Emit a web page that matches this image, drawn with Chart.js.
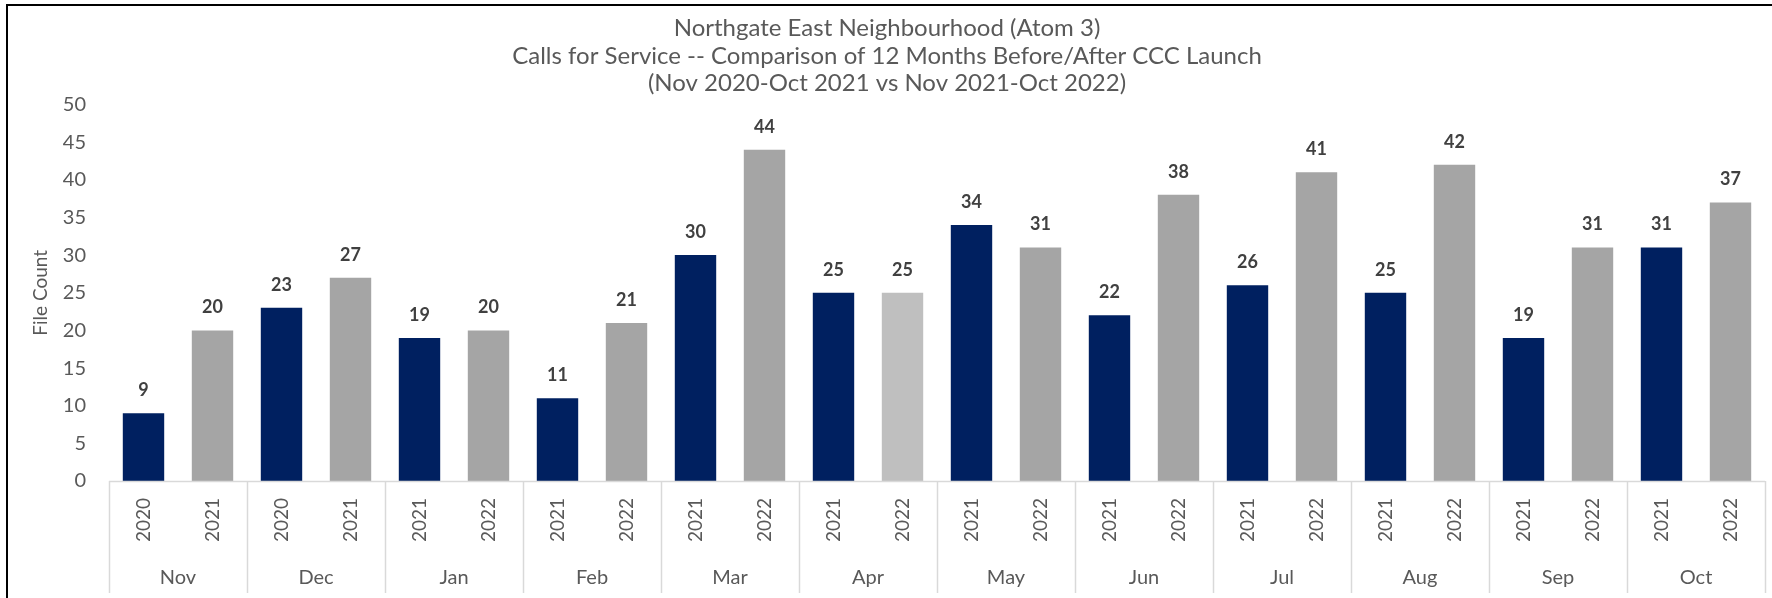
<!DOCTYPE html>
<html>
<head>
<meta charset="utf-8">
<script src="https://cdn.jsdelivr.net/npm/chart.js@4.4.1/dist/chart.umd.min.js"></script>
<style>
  html,body{margin:0;padding:0;background:#fff;}
  #wrap{width:1772px;height:598px;position:relative;}
</style>
</head>
<body>
<div id="wrap"><canvas id="c"></canvas></div>
<script>
// === DATA ===
const months = ['Nov','Dec','Jan','Feb','Mar','Apr','May','Jun','Jul','Aug','Sep','Oct'];
const yearsBefore = ['2020','2020','2021','2021','2021','2021','2021','2021','2021','2021','2021','2021'];
const yearsAfter  = ['2021','2021','2022','2022','2022','2022','2022','2022','2022','2022','2022','2022'];
const countsBefore = [9, 23, 19, 11, 30, 25, 34, 22, 26, 25, 19, 31];
const countsAfter  = [20, 27, 20, 21, 44, 25, 31, 38, 41, 42, 31, 37];
const yTicks = [0, 5, 10, 15, 20, 25, 30, 35, 40, 45, 50];
const titleLines = [
  'Northgate East Neighbourhood (Atom 3)',
  'Calls for Service -- Comparison of 12 Months Before/After CCC Launch',
  '(Nov 2020-Oct 2021 vs Nov 2021-Oct 2022)'
];

// interleave before/after per month
const yearLabels = [], values = [];
months.forEach((m,i)=>{
  yearLabels.push(yearsBefore[i], yearsAfter[i]);
  values.push(countsBefore[i], countsAfter[i]);
});

const NAVY = '#002060', GREY = '#A5A5A5', LIGHT = '#BFBFBF';
const barColors = values.map((_,i)=> i%2===0 ? NAVY : (months[(i-1)/2]==='Apr' ? LIGHT : GREY));
const FONT = 'Lato, "Open Sans", sans-serif';

// === PLUGINS ===
const frame = {
  id:'frame',
  beforeDraw(chart){
    const {ctx,width,height} = chart;
    ctx.save();
    ctx.fillStyle = '#fff'; ctx.fillRect(0,0,width,height);
    ctx.strokeStyle = '#000'; ctx.lineWidth = 2;
    ctx.beginPath(); ctx.moveTo(7,height); ctx.lineTo(7,5); ctx.lineTo(width,5); ctx.stroke();
    ctx.restore();
  }
};
const barValues = {
  id:'barValues',
  afterDatasetsDraw(chart){
    const {ctx} = chart;
    const meta = chart.getDatasetMeta(0);
    ctx.save();
    ctx.font = 'bold 18px ' + FONT;
    ctx.fillStyle = '#404040';
    ctx.textAlign = 'center'; ctx.textBaseline = 'middle';
    meta.data.forEach((bar,i)=> ctx.fillText(String(values[i]), bar.x, bar.y - 23));
    ctx.restore();
  }
};
const groupLines = {
  id:'groupLines',
  afterDraw(chart){
    const {ctx} = chart, x = chart.scales.x;
    const half = (x.getPixelForValue(1) - x.getPixelForValue(0)) / 2;
    ctx.save();
    ctx.strokeStyle = '#D9D9D9'; ctx.lineWidth = 1.5;
    for (let i=0;i<=months.length;i++){
      const px = Math.round(x.getPixelForValue(i*2) - half) + 0.5;
      ctx.beginPath(); ctx.moveTo(px, x.top); ctx.lineTo(px, 593); ctx.stroke();
    }
    ctx.beginPath(); ctx.moveTo(x.left, x.top + 0.5); ctx.lineTo(x.right, x.top + 0.5); ctx.stroke();
    ctx.restore();
  }
};

// === CHART ===
new Chart(document.getElementById('c'), {
  type:'bar',
  data:{labels:yearLabels,
    datasets:[{data:values, backgroundColor:barColors, borderWidth:0,
      barPercentage:0.6, categoryPercentage:1}]},
  options:{responsive:true, maintainAspectRatio:false, animation:false,
    layout:{padding:{left:9, right:7, top:0, bottom:0}},
    plugins:{legend:{display:false}, tooltip:{enabled:false},
      title:{display:true, text:titleLines, color:'#595959',
        font:{family:FONT, size:24, weight:'normal', lineHeight:1.146},
        padding:{top:15, bottom:7}}},
    scales:{
      x:{type:'category', position:'bottom', offset:true,
        grid:{display:false, drawTicks:false, tickLength:0},
        border:{display:false},
        ticks:{color:'#595959', font:{family:FONT, size:19}, minRotation:90, maxRotation:90,
          padding:17, autoSkip:false},
        afterFit(s){ s.height = 77; }},
      x2:{type:'category', position:'bottom', labels:months, offset:true,
        grid:{display:false, drawTicks:false, tickLength:0},
        border:{display:false},
        ticks:{color:'#595959', font:{family:FONT, size:20}, padding:8, autoSkip:false},
        afterFit(s){ s.height = 40; }},
      y:{min:0, max:50,
        afterBuildTicks(s){ s.ticks = yTicks.map(v=>({value:v})); },
        grid:{display:false, drawTicks:false, tickLength:0},
        border:{display:false},
        ticks:{color:'#595959', font:{family:FONT, size:20}, padding:23},
        title:{display:true, text:'File Count', color:'#595959',
          font:{family:FONT, size:19}, padding:{top:20, bottom:0}},
        afterFit(s){ s.width = 100; }}
    }},
  plugins:[frame, barValues, groupLines]
});
</script>
</body>
</html>
